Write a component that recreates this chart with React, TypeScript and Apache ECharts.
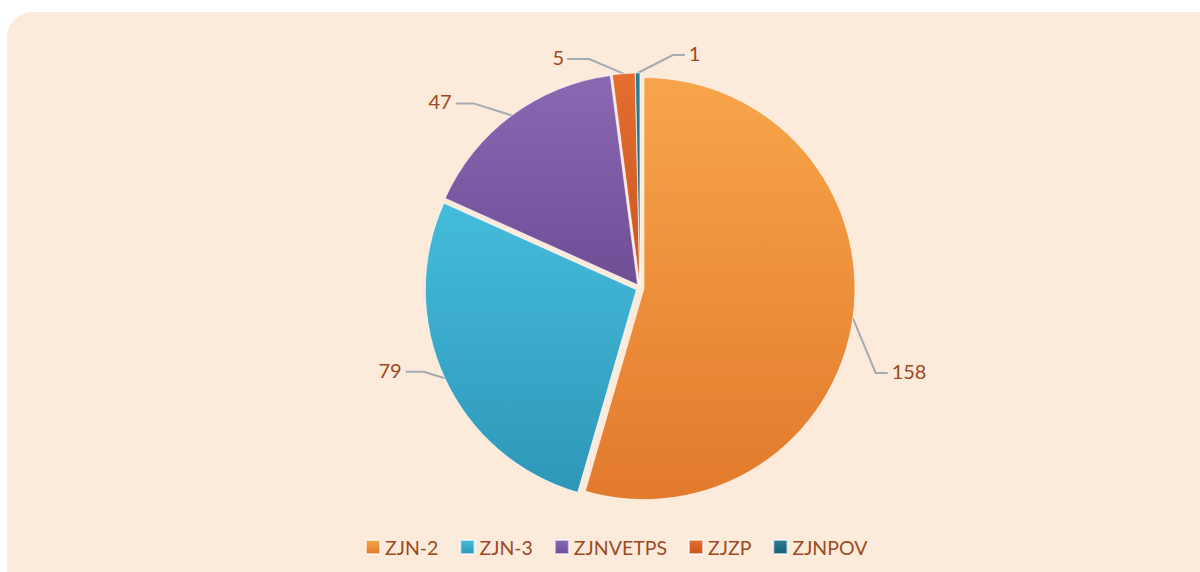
import React, { useEffect, useRef } from "react";
import * as echarts from "echarts";

const categories = ["ZJN-2", "ZJN-3", "ZJNVETPS", "ZJZP", "ZJNPOV"];
const values = [158, 79, 47, 5, 1];
const topColors = ["#F7A54A", "#45BCDB", "#8A68B2", "#E56E30", "#2A7F98"];
const bottomColors = ["#E27A2C", "#2E97B8", "#6F4E96", "#C8561F", "#1A5F74"];
// label nudges (style only)
const labelShift: [number, number][] = [[-8, 50], [2, -17], [-26, 2], [45, -18], [90, 0]];

export default function App() {
  const ref = useRef<HTMLDivElement>(null);
  useEffect(() => {
    document.body.style.margin = "0";
    const chart = echarts.init(ref.current!, undefined, { renderer: "svg" });
    const data = categories.map((name, i) => ({
      name,
      value: values[i],
      selected: true,
      itemStyle: {
        color: new echarts.graphic.LinearGradient(0, 0, 0, 1, [
          { offset: 0, color: topColors[i] },
          { offset: 1, color: bottomColors[i] },
        ]),
      },
    }));
    chart.setOption({
      animation: false,
      legend: {
        data: categories,
        left: 360,
        top: 532,
        icon: "rect",
        itemWidth: 14,
        itemHeight: 14,
        itemGap: 21,
        textStyle: { fontFamily: "Lato", fontSize: 19.5, color: "#9C4A22" },
        selectedMode: false,
      },
      color: topColors,
      series: [
        {
          type: "pie",
          center: [640, 288],
          radius: 211,
          startAngle: 90,
          clockwise: true,
          selectedMode: "multiple",
          selectedOffset: 4,
          data,
          itemStyle: { borderColor: "rgba(255,255,255,0.6)", borderWidth: 1 },
          label: {
            show: true,
            position: "outside",
            formatter: "{c}",
            fontFamily: "Lato",
            fontSize: 20,
            color: "#9C4A22",
          },
          labelLine: {
            show: true,
            length: 20,
            length2: 22,
            lineStyle: { color: "#A5ABB2", width: 2 },
          },
          labelLayout: (p: any) => {
            const i = p.dataIndex;
            const s = labelShift[i] || [0, 0];
            const r = p.labelRect;
            const x = r.x + s[0];
            const y = r.y + s[1];
            const pts = p.labelLinePoints;
            if (!pts) return { dx: s[0], dy: s[1] };
            const start = pts[0];
            const cy = y + r.height * 0.6;
            let end: number[];
            let mid: number[];
            if (i === 0 || i === 4) {
              end = [x - 4, cy];
              mid = [end[0] - 12, cy];
            } else if (i === 3) {
              end = [x + r.width + 3, cy];
              mid = [end[0] + 22, cy];
            } else {
              end = [x + r.width + 4, cy];
              mid = [end[0] + 18, cy];
            }
            return { dx: s[0], dy: s[1], labelLinePoints: [start, mid, end] };
          },
          emphasis: { disabled: true },
        },
      ],
    });
    return () => chart.dispose();
  }, []);
  return (
    <div style={{ position: "relative", width: 1200, height: 572, background: "#fff", overflow: "hidden" }}>
      <div
        style={{
          position: "absolute",
          left: 7,
          top: 12,
          width: 1230,
          height: 600,
          background: "#FCEADB",
          borderRadius: 26,
        }}
      />
      <div ref={ref} style={{ position: "absolute", left: 0, top: 0, width: 1200, height: 572 }} />
    </div>
  );
}
